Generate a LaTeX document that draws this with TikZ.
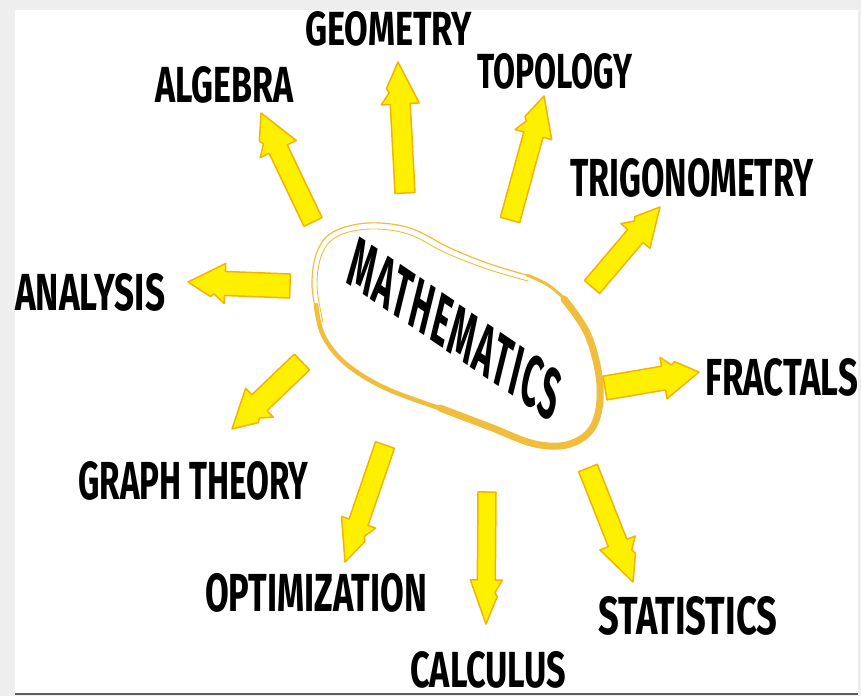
\documentclass[tikz,border=0pt]{standalone}
\usepackage{fontspec}
\setmainfont{Fira Sans}
\usetikzlibrary{calc}
\definecolor{ayellow}{HTML}{FFF000}
\definecolor{aedge}{HTML}{F2B400}
\definecolor{blobc}{HTML}{F0BE3C}
\definecolor{bggray}{HTML}{EEEEEE}
\definecolor{lineg}{HTML}{5A5E6A}
\tikzset{
  yarr/.style={fill=ayellow, draw=aedge, line width=1.5pt, line join=round},
  lbl/.style={inner sep=0pt, anchor=south west, font=\bfseries},
  blobline/.style={draw=blobc, line cap=round, line join=round},
}
\newcommand\lbltext[3]{\resizebox{#1pt}{#2pt}{#3}}
% tail, tip, shaft half width, head half width, head length
\newcommand\yarrow[5]{%
  \path ($(#2)!#5pt!(#1)$) coordinate (hb)
        ($(#2)!0.72*#5pt!(#1)$) coordinate (hc)
        ($(#2)!0.62*#5pt!(#1)$) coordinate (hd);
  \draw[yarr] ($(#1)!#3pt!90:(#2)$) -- ($(hb)!#3pt!90:(#2)$)
     -- ($(hb)!#4pt!90:(#2)$) -- ($(hc)!0.55*#4pt!90:(#2)$)
     -- ($(hd)!0.68*#4pt!90:(#2)$) -- (#2)
     -- ($(hb)!#4pt!-90:(#2)$) -- ($(hb)!#3pt!-90:(#2)$)
     -- ($(#1)!#3pt!-90:(#2)$) -- cycle;
}
\begin{document}
\begin{tikzpicture}[x=1pt,y=-1pt]
\useasboundingbox (0,0) rectangle (861,696);
\fill[bggray] (0,0) rectangle (861,696);
\fill[white] (15,10) rectangle (858,694);
\draw[lineg, line width=2pt] (15,694) -- (858,694);

% blob outline
\draw[blobline, line width=1.2pt] plot[smooth, tension=0.6] coordinates
  {(318,322) (312,285) (317,252) (333,232) (368,223) (410,228) (450,248) (490,264) (530,276)};
\draw[blobline, line width=0.9pt] plot[smooth, tension=0.6] coordinates
  {(323,322) (317,286) (322,254) (338,236) (370,229) (408,234) (446,253) (487,269) (528,281)};
\draw[blobline, line width=3pt] plot[smooth, tension=0.6] coordinates
  {(527,275) (548,285) (566,300)};
\draw[blobline, line width=7pt] plot[smooth, tension=0.6] coordinates
  {(564,299) (588,335) (600,385) (594,425) (570,444) (535,444) (490,427) (440,408)};
\draw[blobline, line width=4.5pt] plot[smooth, tension=0.6] coordinates
  {(442,409) (385,388) (345,363) (323,335) (316,305)};

% central text
\begin{scope}[shift={(455,329)}]
  \node[inner sep=0pt, cm={0.83,-0.56,0.24,0.97,(0,0)}, transform shape, font=\bfseries]
    (math) at (0,0) {\lbltext{250}{50}{\addfontfeatures{LetterSpace=6}MATHEMATICS}};
\end{scope}

% arrow end points
\coordinate (t1) at (313,222);  \coordinate (h1) at (261,113);
\coordinate (t2) at (405,193);  \coordinate (h2) at (398,62);
\coordinate (t3) at (510,220);  \coordinate (h3) at (544,96);
\coordinate (t4) at (592,287);  \coordinate (h4) at (660,207);
\coordinate (t5) at (605,388);  \coordinate (h5) at (699,372);
\coordinate (t6) at (588,468);  \coordinate (h6) at (633,582);
\coordinate (t7) at (487,492);  \coordinate (h7) at (486,624);
\coordinate (t8) at (385,445);  \coordinate (h8) at (345,562);
\coordinate (t9) at (302,362);  \coordinate (h9) at (232,429);
\coordinate (t10) at (290,286); \coordinate (h10) at (188,282);

\yarrow{t1}{h1}{10}{20}{40}
\yarrow{t2}{h2}{10}{19}{42}
\yarrow{t3}{h3}{10}{19}{40}
\yarrow{t4}{h4}{10}{19}{38}
\yarrow{t5}{h5}{12}{21}{36}
\yarrow{t6}{h6}{10}{19}{42}
\yarrow{t7}{h7}{9}{16}{44}
\yarrow{t8}{h8}{10}{18}{42}
\yarrow{t9}{h9}{11}{20}{38}
\yarrow{t10}{h10}{12}{20}{37}

% labels
\node[lbl] (geometry) at (305,47)  {\lbltext{167}{34}{GEOMETRY}};
\node[lbl] (algebra)  at (155,104) {\lbltext{138}{36}{ALGEBRA}};
\node[lbl] (topology) at (477,90)  {\lbltext{155}{35}{TOPOLOGY}};
\node[lbl] (trig)     at (570,198) {\lbltext{243}{38}{TRIGONOMETRY}};
\node[lbl] (analysis) at (15,312)  {\lbltext{150}{37}{ANALYSIS}};
\node[lbl] (fractals) at (705,397) {\lbltext{153}{37}{FRACTALS}};
\node[lbl] (graph)    at (78,501)  {\lbltext{230}{38}{GRAPH THEORY}};
\node[lbl] (optim)    at (205,613) {\lbltext{222}{38}{OPTIMIZATION}};
\node[lbl] (stats)    at (598,636) {\lbltext{179}{38}{STATISTICS}};
\node[lbl] (calc)     at (410,689) {\lbltext{156}{36}{CALCULUS}};
\end{tikzpicture}
\end{document}
